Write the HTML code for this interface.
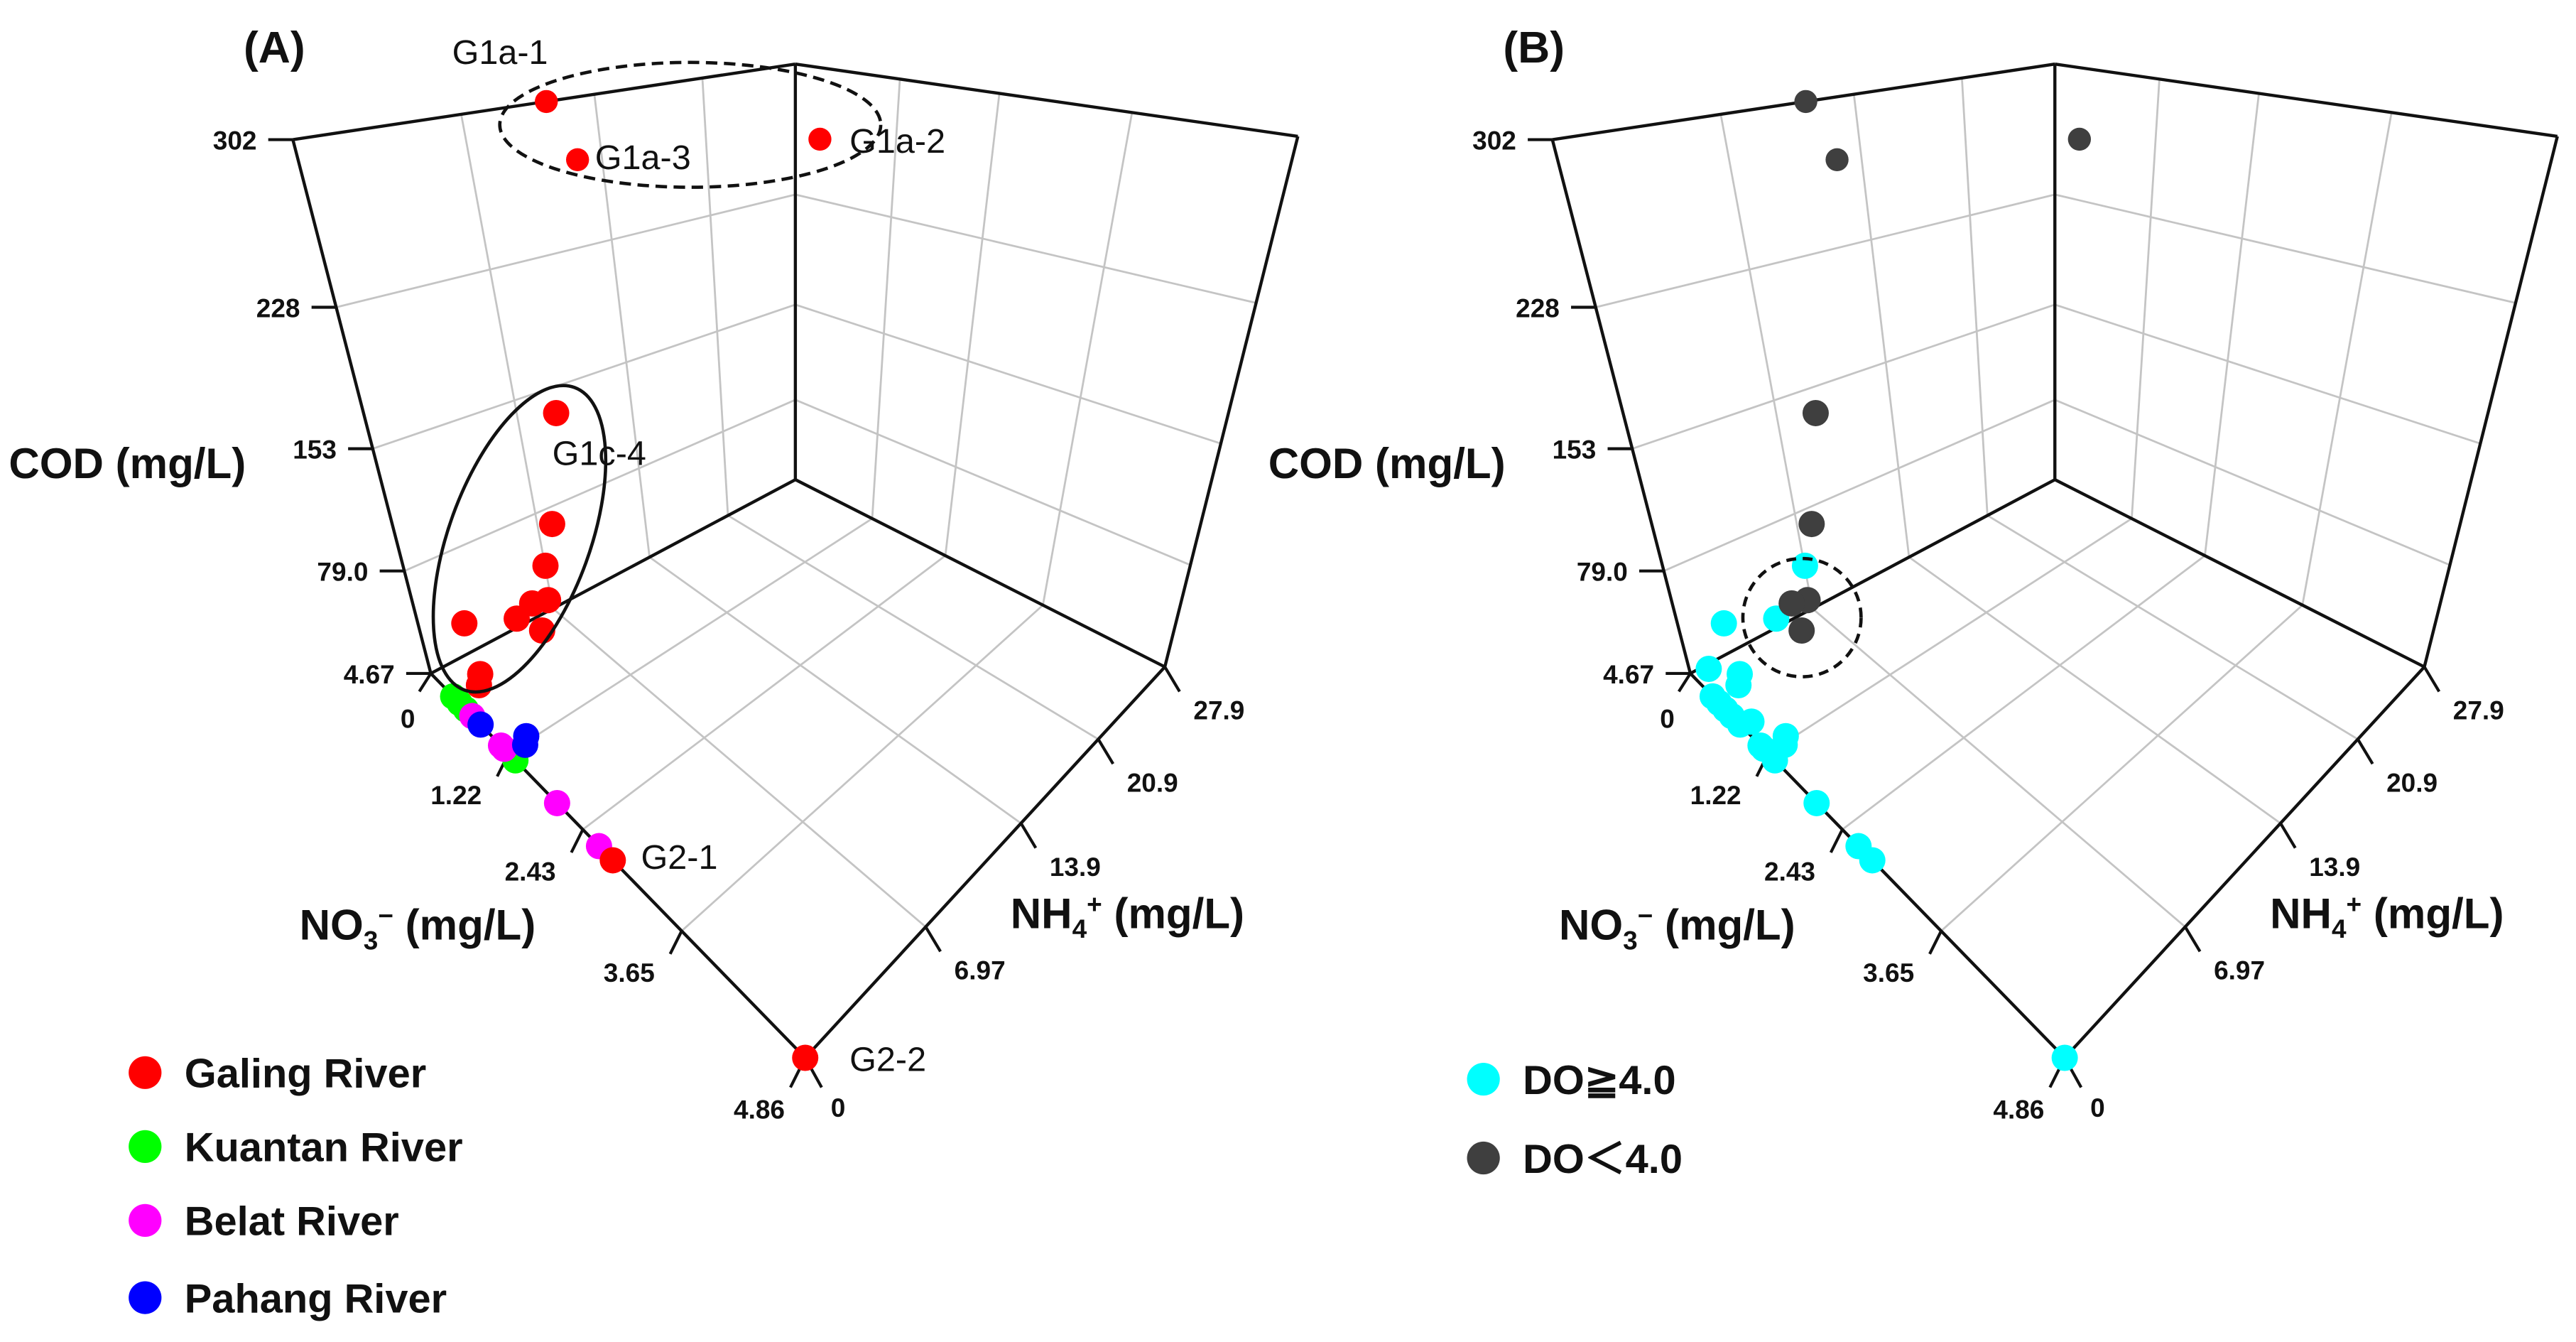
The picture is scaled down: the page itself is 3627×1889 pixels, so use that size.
<!DOCTYPE html>
<html><head><meta charset="utf-8"><style>
html,body{margin:0;padding:0;background:#fff;}
svg{display:block;}
text{font-family:"Liberation Sans",Arial,sans-serif;}
.tk{font-size:16px;font-weight:bold;fill:#111;}
.ax{font-size:26px;font-weight:bold;fill:#111;}
.lg{font-size:25px;font-weight:bold;fill:#111;}
.pl{font-size:21px;fill:#111;}
.ttl{font-size:27px;font-weight:bold;fill:#111;}
</style></head><body>
<svg id="fig" width="3627" height="1889" viewBox="0 0 1568 817" xmlns="http://www.w3.org/2000/svg">
<g id="pA"></g>
<g id="pB"></g>
</svg>
<script>
// ---- data ----
const no3Ticks = [0, 1.22, 2.43, 3.65, 4.86];
const nh4Ticks = [0, 6.97, 13.9, 20.9, 27.9];
const codTicks = [4.67, 79.0, 153, 228, 302];
const codTickLabels = ["4.67", "79.0", "153", "228", "302"];
const no3TickLabels = ["0", "1.22", "2.43", "3.65", "4.86"];
const nh4TickLabels = ["0", "6.97", "13.9", "20.9", "27.9"];

const galingNO3 = [0, 0, 0.30, 0, 0, 0, 0, 0, 0.18, 0, 0, 0.82, 0.75, 2.80, 4.86];
const galingNH4 = [11.4, 12.6, 27.9, 9.3, 7.9, 7.0, 6.8, 5.95, 5.7, 5.0, 2.3, 0.42, 0.42, 0, 0];
const galingCOD = [302, 271, 262, 136, 66, 38, 12.5, 16, 4.67, 11, 26, 39, 28, 4.67, 4.67];
const kuantanNO3 = [0.35, 0.45, 0.55, 1.33];
const kuantanNH4 = [0, 0, 0, 0];
const kuantanCOD = [4.67, 4.67, 4.67, 4.67];
const belatNO3 = [0.65, 1.10, 1.15, 2.01, 2.63];
const belatNH4 = [0, 0, 0, 0, 0];
const belatCOD = [4.67, 4.67, 4.67, 4.67, 4.67];
const pahangNO3 = [0.78, 1.63, 1.58];
const pahangNH4 = [0, 0, 0];
const pahangCOD = [4.67, 34, 26];

const doLowNO3 = [0, 0, 0.30, 0, 0, 0, 0, 0.18];
const doLowNH4 = [11.4, 12.6, 27.9, 9.3, 7.9, 6.8, 5.95, 5.7];
const doLowCOD = [302, 271, 262, 136, 66, 12.5, 16, 4.67];
const doHighNO3 = [0, 0, 0, 0.82, 0.75, 0.35, 0.45, 0.55, 0.65, 0.78, 1.10, 1.15, 1.33, 1.63, 1.58, 2.01, 2.63, 2.80, 4.86, 0.2, 0.9];
const doHighNH4 = [7.0, 2.3, 5.0, 0.42, 0.42, 0, 0, 0, 0, 0, 0, 0, 0, 0, 0, 0, 0, 0, 0, 0.5, 0.3];
const doHighCOD = [38, 26, 11, 39, 28, 4.67, 4.67, 4.67, 4.67, 4.67, 4.67, 4.67, 4.67, 34, 26, 4.67, 4.67, 4.67, 4.67, 14, 10];

// ---- geometry (perspective fractions of the rendered axes) ----
const NS = "http://www.w3.org/2000/svg";
const codFrac = [0, 0.192, 0.421, 0.686, 1];
const no3Frac = [0, 0.208, 0.406, 0.67, 1];
const nh4Frac = [0, 0.335, 0.60, 0.815, 1];
function pw(val, ticks, fr){
  if (val <= ticks[0]) return fr[0] + (val-ticks[0])/(ticks[1]-ticks[0])*(fr[1]-fr[0]);
  for (let i=1;i<ticks.length;i++){
    if (val <= ticks[i]) return fr[i-1] + (val-ticks[i-1])/(ticks[i]-ticks[i-1])*(fr[i]-fr[i-1]);
  }
  const n=ticks.length-1;
  return fr[n] + (val-ticks[n])/(ticks[n]-ticks[n-1])*(fr[n]-fr[n-1]);
}
const hOf = c => Math.max(0, pw(c, codTicks, codFrac));
const F0=[262,410], F1=[490,644], F2=[709,406], F3=[484,292];
const U0=[-84,-325], U1=[0,-400], U2=[81,-324], U3=[0,-253];
function bil(A,B,C,D,u,v,k){
  return (1-u)*(1-v)*A[k] + u*(1-v)*B[k] + u*v*C[k] + (1-u)*v*D[k];
}
function proj(no3, nh4, cod, ox){
  const u = pw(no3, no3Ticks, no3Frac), v = pw(nh4, nh4Ticks, nh4Frac), h = hOf(cod);
  const bx = bil(F0,F1,F2,F3,u,v,0), by = bil(F0,F1,F2,F3,u,v,1);
  const ux = bil(U0,U1,U2,U3,u,v,0), uy = bil(U0,U1,U2,U3,u,v,1);
  return [ox + bx + h*ux, by + h*uy];
}
function el(parent, tag, attrs){
  const e = document.createElementNS(NS, tag);
  for (const k in attrs) e.setAttribute(k, attrs[k]);
  parent.appendChild(e);
  return e;
}
function lerp(a,b,t){return [a[0]+(b[0]-a[0])*t, a[1]+(b[1]-a[1])*t];}

function drawPanel(g, ox, series, legend, title){
  const P0=[F0[0]+ox,F0[1]], P1=[F1[0]+ox,F1[1]], P2=[F2[0]+ox,F2[1]], P3=[F3[0]+ox,F3[1]];
  const L1=[178+ox,85], B1=[484+ox,39], R1=[790+ox,83];
  const gridStyle = {stroke:"#c4c4c4","stroke-width":1.2,fill:"none"};
  function gline(a,b,name){
    const l = el(g,"line",Object.assign({x1:a[0],y1:a[1],x2:b[0],y2:b[1]},gridStyle));
    
    
  }
  for (let i=1;i<4;i++){
    const tv=nh4Frac[i], tu=no3Frac[i];
    gline(lerp(P0,P3,tv), lerp(P1,P2,tv), 'floor-grid-line');
    gline(lerp(P0,P1,tu), lerp(P3,P2,tu), 'floor-grid-line');
    gline(lerp(P0,P3,tv), lerp(L1,B1,tv), 'left-wall-grid-line');
    gline(lerp(P3,P2,tu), lerp(B1,R1,tu), 'right-wall-grid-line');
  }
  for (let i=1;i<4;i++){
    const f=codFrac[i];
    gline(lerp(P0,L1,f), lerp(P3,B1,f), 'left-wall-grid-line');
    gline(lerp(P3,B1,f), lerp(P2,R1,f), 'right-wall-grid-line');
  }
  const fs={stroke:"#111","stroke-width":1.9,fill:"none"};
  const edges=[[P0,L1],[L1,B1],[B1,R1],[R1,P2],[P3,B1],[P0,P3],[P3,P2],[P0,P1],[P1,P2]];
  edges.forEach(e=>{
    const l=el(g,"line",Object.assign({x1:e[0][0],y1:e[0][1],x2:e[1][0],y2:e[1][1]},fs));
    
    
  });
  codTicks.forEach((c,i)=>{
    const p = lerp(P0,L1,hOf(c));
    const l=el(g,"line",{x1:p[0]-15,y1:p[1],x2:p[0],y2:p[1],stroke:"#111","stroke-width":1.8});
    
    
    const t=el(g,"text",{x:p[0]-22,y:p[1]+6,"text-anchor":"end",class:"tk"});
    t.textContent=codTickLabels[i];
    
    
  });
  no3Ticks.forEach((n,i)=>{
    const p = proj(n,0,codTicks[0],ox);
    const q = i===0 ? [p[0]-7, p[1]+11] : (i===4 ? [p[0]-9,p[1]+18] : [p[0]-7, p[1]+14]);
    const l=el(g,"line",{x1:p[0],y1:p[1],x2:q[0],y2:q[1],stroke:"#111","stroke-width":1.8});
    
    
    const off = i===0?[-7,22]:(i===4?[-19,19]:[-25,17]);
    const t=el(g,"text",{x:q[0]+off[0],y:q[1]+off[1],"text-anchor":"middle",class:"tk"});
    t.textContent=no3TickLabels[i];
    
    
  });
  nh4Ticks.forEach((n,i)=>{
    const p = proj(4.86,n,codTicks[0],ox);
    const q = i===0 ? [p[0]+10,p[1]+18] : [p[0]+9, p[1]+15];
    const l=el(g,"line",{x1:p[0],y1:p[1],x2:q[0],y2:q[1],stroke:"#111","stroke-width":1.8});
    
    
    const off = i===0?[10,18]:[24,17];
    const t=el(g,"text",{x:q[0]+off[0],y:q[1]+off[1],"text-anchor":"middle",class:"tk"});
    t.textContent=nh4TickLabels[i];
    
    
  });
  let t=el(g,"text",{x:ox+5,y:291,class:"ax"}); t.textContent="COD (mg/L)";
   
  t=el(g,"text",{x:ox+182,y:572,class:"ax"});
  t.innerHTML='NO<tspan font-size="16" dy="6">3</tspan><tspan dy="-15" font-size="16">−</tspan><tspan dy="9"> (mg/L)</tspan>';
   
  t=el(g,"text",{x:ox+615,y:565,class:"ax"});
  t.innerHTML='NH<tspan font-size="16" dy="6">4</tspan><tspan dy="-15" font-size="16">+</tspan><tspan dy="9"> (mg/L)</tspan>';
   
  t=el(g,"text",{x:ox+148,y:38,class:"ttl"}); t.textContent=title;
   
  series.forEach(s=>{
    s.no3.forEach((n,i)=>{
      const p=proj(n,s.nh4[i],s.cod[i],ox);
      const c=el(g,"circle",{cx:p[0],cy:p[1],r:s.cod[i]>250?7:8,fill:s.color});
      
      
    });
  });
  legend.forEach((L,i)=>{
    const c=el(g,"circle",{cx:L.x,cy:L.y,r:10,fill:L.color});
    
    
    const tt=el(g,"text",{x:L.x+24,y:L.y+9,class:"lg"}); tt.textContent=L.label;
    
    
  });
}

const gA=document.getElementById('pA'), gB=document.getElementById('pB');
drawPanel(gA,0,[
  {name:'kuantan',color:'#00ff00',no3:kuantanNO3,nh4:kuantanNH4,cod:kuantanCOD},
  {name:'belat',color:'#ff00ff',no3:belatNO3,nh4:belatNH4,cod:belatCOD},
  {name:'pahang',color:'#0000ff',no3:pahangNO3,nh4:pahangNH4,cod:pahangCOD},
  {name:'galing',color:'#ff0000',no3:galingNO3,nh4:galingNH4,cod:galingCOD}
],[
  {x:88,y:653,color:'#ff0000',label:'Galing River'},
  {x:88,y:698,color:'#00ff00',label:'Kuantan River'},
  {x:88,y:743,color:'#ff00ff',label:'Belat River'},
  {x:88,y:790,color:'#0000ff',label:'Pahang River'}
],'(A)');
drawPanel(gB,767,[
  {name:'do-high',color:'#00ffff',no3:doHighNO3,nh4:doHighNH4,cod:doHighCOD},
  {name:'do-low',color:'#3f3f3f',no3:doLowNO3,nh4:doLowNH4,cod:doLowCOD}
],[
  {x:903,y:657,color:'#00ffff',label:'DO≧4.0'},
  {x:903,y:705,color:'#3f3f3f',label:'DO＜4.0'}
],'(B)');

const ann=[["G1a-1",275,39],["G1a-3",362,103],["G1a-2",517,93],["G1c-4",336,283],["G2-1",390,529],["G2-2",517,652]];
ann.forEach(a=>{
  const t=el(gA,"text",{x:a[1],y:a[2],class:"pl"}); t.textContent=a[0];
  
  
});
let e=el(gA,"ellipse",{cx:420,cy:76,rx:116,ry:38,fill:"none",stroke:"#111","stroke-width":2,"stroke-dasharray":"7,4"});
 
e=el(gA,"ellipse",{cx:0,cy:0,rx:43,ry:98,fill:"none",stroke:"#111","stroke-width":2,transform:"translate(316,328) rotate(20)"});
 
e=el(gB,"circle",{cx:1097,cy:376,r:36,fill:"none",stroke:"#111","stroke-width":2,"stroke-dasharray":"6,4"});
 
</script>
</body></html>
